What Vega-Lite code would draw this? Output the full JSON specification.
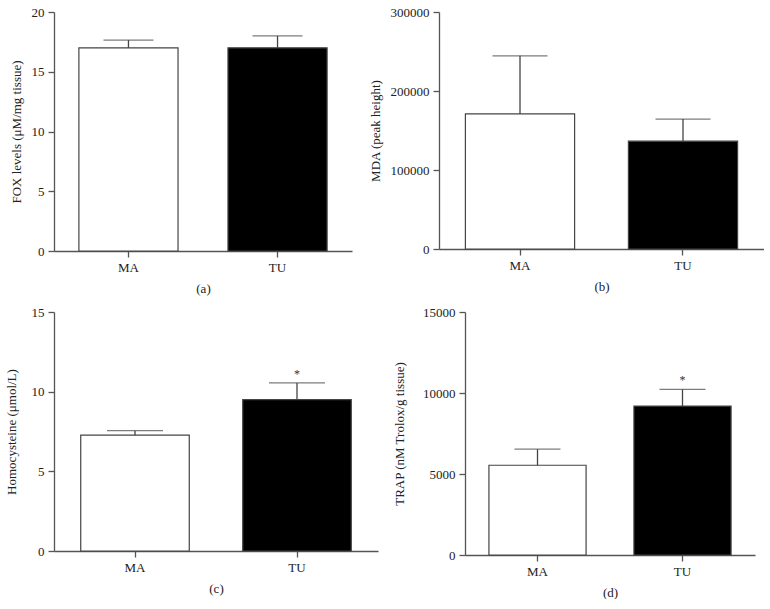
{
  "$schema": "https://vega.github.io/schema/vega-lite/v6.json",
  "background": "white",
  "padding": {"left": 5, "top": 6, "right": 0, "bottom": 0},
  "columns": 1,
  "align": "none",
  "spacing": 11,
  "config": {
    "view": {"stroke": null},
    "font": "Liberation Serif",
    "axis": {
      "grid": false,
      "domainColor": "#555",
      "tickColor": "#555",
      "domainWidth": 1.3,
      "tickWidth": 1.3,
      "tickSize": 6,
      "labelFont": "Liberation Serif",
      "titleFont": "Liberation Serif",
      "labelFontSize": 13,
      "titleFontSize": 13,
      "titleFontWeight": "normal",
      "labelColor": "#222",
      "titleColor": "#222",
      "labelPadding": 4
    },
    "axisX": {"labelAngle": 0, "titlePadding": 8},
    "axisY": {"titlePadding": 9, "format": "d"}
  },
  "datasets": {
    "d": [
      {"panel": "a", "group": "MA", "mean": 17.0, "upper": 17.65, "sig": ""},
      {"panel": "a", "group": "TU", "mean": 17.0, "upper": 18.0, "sig": ""},
      {"panel": "b", "group": "MA", "mean": 171000, "upper": 244500, "sig": ""},
      {"panel": "b", "group": "TU", "mean": 136500, "upper": 164500, "sig": ""},
      {"panel": "c", "group": "MA", "mean": 7.27, "upper": 7.55, "sig": ""},
      {"panel": "c", "group": "TU", "mean": 9.5, "upper": 10.55, "sig": "*"},
      {"panel": "d", "group": "MA", "mean": 5540, "upper": 6530, "sig": ""},
      {"panel": "d", "group": "TU", "mean": 9190, "upper": 10220, "sig": "*"}
    ]
  },
  "concat": [
    {
      "spacing": 17,
      "hconcat": [
        {
          "width": 298, "height": 239,
          "data": {"name": "d"},
          "transform": [{"filter": "datum.panel === 'a'"}],
          "encoding": {"x": {"field": "group", "type": "nominal", "scale": {"paddingInner": 0.335, "paddingOuter": 0.167}, "axis": {"title": "(a)"}}},
          "layer": [
            {"mark": {"type": "bar", "stroke": "#444", "strokeWidth": 1.2},
             "encoding": {"y": {"field": "mean", "type": "quantitative", "title": "FOX levels (μM/mg tissue)", "scale": {"domain": [0, 20], "nice": false}, "axis": {"values": [0, 5, 10, 15, 20], "titlePadding": 8}},
               "fill": {"field": "group", "type": "nominal", "scale": {"range": ["white", "black"]}, "legend": null}}},
            {"mark": {"type": "rule", "color": "#444", "strokeWidth": 1.3},
             "encoding": {"y": {"field": "mean", "type": "quantitative", "title": "FOX levels (μM/mg tissue)"}, "y2": {"field": "upper"}}},
            {"mark": {"type": "tick", "orient": "horizontal", "size": 50, "thickness": 1.3, "color": "#444"},
             "encoding": {"y": {"field": "upper", "type": "quantitative", "title": "FOX levels (μM/mg tissue)"}}}
          ]
        },
        {
          "width": 325, "height": 237,
          "data": {"name": "d"},
          "transform": [{"filter": "datum.panel === 'b'"}],
          "encoding": {"x": {"field": "group", "type": "nominal", "scale": {"paddingInner": 0.33, "paddingOuter": 0.162}, "axis": {"title": "(b)"}}},
          "layer": [
            {"mark": {"type": "bar", "stroke": "#444", "strokeWidth": 1.2},
             "encoding": {"y": {"field": "mean", "type": "quantitative", "title": "MDA (peak height)", "scale": {"domain": [0, 300000], "nice": false}, "axis": {"values": [0, 100000, 200000, 300000], "titlePadding": 8}},
               "fill": {"field": "group", "type": "nominal", "scale": {"range": ["white", "black"]}, "legend": null}}},
            {"mark": {"type": "rule", "color": "#444", "strokeWidth": 1.3},
             "encoding": {"y": {"field": "mean", "type": "quantitative", "title": "MDA (peak height)"}, "y2": {"field": "upper"}}},
            {"mark": {"type": "tick", "orient": "horizontal", "size": 55, "thickness": 1.3, "color": "#444"},
             "encoding": {"y": {"field": "upper", "type": "quantitative", "title": "MDA (peak height)"}}}
          ]
        }
      ]
    },
    {
      "spacing": 15,
      "hconcat": [
        {
          "width": 324, "height": 239,
          "data": {"name": "d"},
          "transform": [{"filter": "datum.panel === 'c'"}],
          "encoding": {"x": {"field": "group", "type": "nominal", "scale": {"paddingInner": 0.33, "paddingOuter": 0.165}, "axis": {"title": "(c)"}}},
          "layer": [
            {"mark": {"type": "bar", "stroke": "#444", "strokeWidth": 1.2},
             "encoding": {"y": {"field": "mean", "type": "quantitative", "title": "Homocysteine (μmol/L)", "scale": {"domain": [0, 15], "nice": false}, "axis": {"values": [0, 5, 10, 15], "titlePadding": 13}},
               "fill": {"field": "group", "type": "nominal", "scale": {"range": ["white", "black"]}, "legend": null}}},
            {"mark": {"type": "rule", "color": "#444", "strokeWidth": 1.3},
             "encoding": {"y": {"field": "mean", "type": "quantitative", "title": "Homocysteine (μmol/L)"}, "y2": {"field": "upper"}}},
            {"mark": {"type": "tick", "orient": "horizontal", "size": 56, "thickness": 1.3, "color": "#444"},
             "encoding": {"y": {"field": "upper", "type": "quantitative", "title": "Homocysteine (μmol/L)"}}},
            {"mark": {"type": "text", "dy": -5, "baseline": "alphabetic", "fontSize": 12, "color": "#333"},
             "encoding": {"y": {"field": "upper", "type": "quantitative", "title": "Homocysteine (μmol/L)"}, "text": {"field": "sig"}}}
          ]
        },
        {
          "width": 290, "height": 243,
          "data": {"name": "d"},
          "transform": [{"filter": "datum.panel === 'd'"}],
          "encoding": {"x": {"field": "group", "type": "nominal", "scale": {"paddingInner": 0.33, "paddingOuter": 0.165}, "axis": {"title": "(d)"}}},
          "layer": [
            {"mark": {"type": "bar", "stroke": "#444", "strokeWidth": 1.2},
             "encoding": {"y": {"field": "mean", "type": "quantitative", "title": "TRAP (nM Trolox/g tissue)", "scale": {"domain": [0, 15000], "nice": false}, "axis": {"values": [0, 5000, 10000, 15000], "titlePadding": 16}},
               "fill": {"field": "group", "type": "nominal", "scale": {"range": ["white", "black"]}, "legend": null}}},
            {"mark": {"type": "rule", "color": "#444", "strokeWidth": 1.3},
             "encoding": {"y": {"field": "mean", "type": "quantitative", "title": "TRAP (nM Trolox/g tissue)"}, "y2": {"field": "upper"}}},
            {"mark": {"type": "tick", "orient": "horizontal", "size": 46, "thickness": 1.3, "color": "#444"},
             "encoding": {"y": {"field": "upper", "type": "quantitative", "title": "TRAP (nM Trolox/g tissue)"}}},
            {"mark": {"type": "text", "dy": -5, "baseline": "alphabetic", "fontSize": 12, "color": "#333"},
             "encoding": {"y": {"field": "upper", "type": "quantitative", "title": "TRAP (nM Trolox/g tissue)"}, "text": {"field": "sig"}}}
          ]
        }
      ]
    }
  ]
}
